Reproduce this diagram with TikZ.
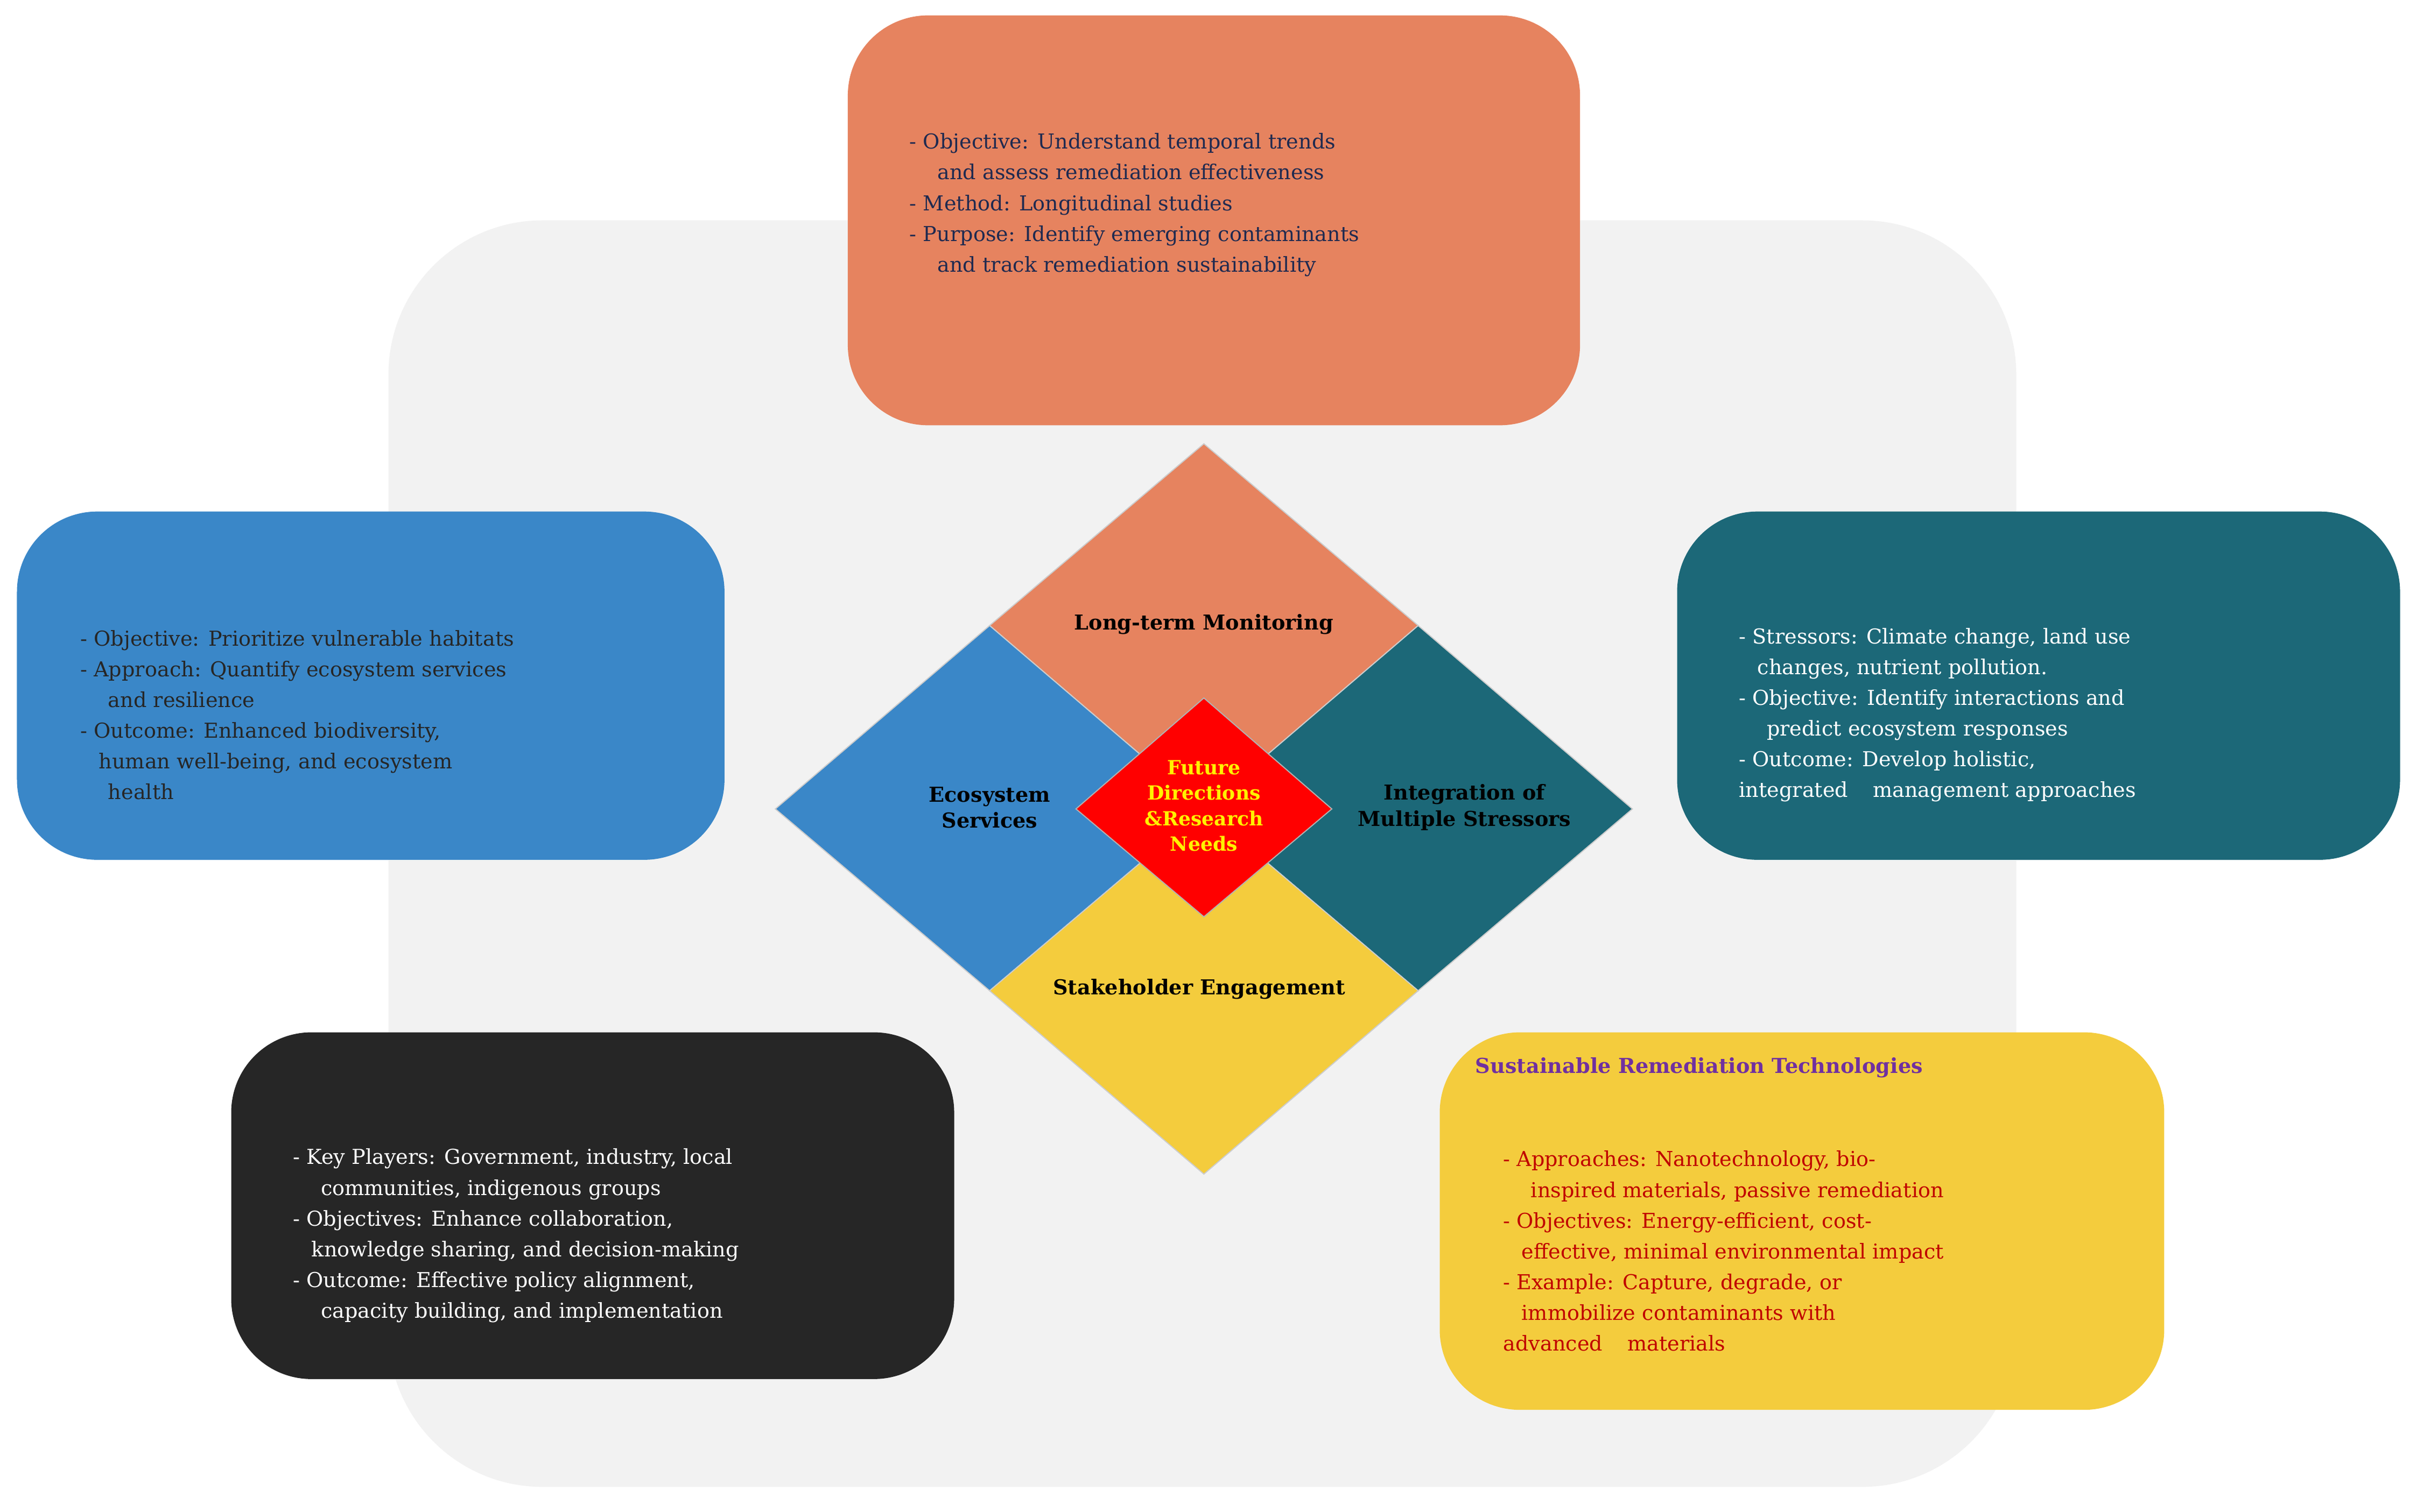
\documentclass[tikz,border=0pt]{standalone}
\usepackage{fontspec}
\setmainfont{DejaVu Serif}
\begin{document}
\begin{tikzpicture}[x=0.05cm,y=-0.05cm,
  box/.style={rounded corners=2.6cm},
  txt/.style={anchor=west,align=left,font=\fontsize{19}{28.4}\selectfont,inner sep=0},
  lab/.style={align=center,font=\bfseries\fontsize{19}{24}\selectfont,inner sep=0},
  dia/.style={draw=gray!40,line width=1pt}]
\definecolor{bgc}{HTML}{F2F2F2}
\definecolor{org}{HTML}{E6835F}
\definecolor{blu}{HTML}{3A87C8}
\definecolor{tea}{HTML}{1C6878}
\definecolor{blk}{HTML}{262626}
\definecolor{yel}{HTML}{F4CC3D}
\definecolor{nav}{HTML}{1F2A50}
\definecolor{pur}{HTML}{7030A0}
\definecolor{drd}{HTML}{C00000}
\useasboundingbox (0,0) rectangle (1568,981);
\fill[bgc,rounded corners=5cm] (252,143) rectangle (1308,965);
\fill[org,box] (550,10) rectangle (1025,276);
\fill[blu,box] (11,332) rectangle (470,558);
\fill[tea,box] (1088,332) rectangle (1557,558);
\fill[blk,box] (150,670) rectangle (619,895);
\fill[yel,box] (934,670) rectangle (1404,915);
% diamonds
\filldraw[org,dia] (781,288) -- (920,406) -- (781,525) -- (642,406) -- cycle;
\filldraw[blu,dia] (642,406) -- (781,525) -- (642,643) -- (503,525) -- cycle;
\filldraw[tea,dia] (920,406) -- (1059,525) -- (920,643) -- (781,525) -- cycle;
\filldraw[yel,dia] (781,525) -- (920,643) -- (781,762) -- (642,643) -- cycle;
\filldraw[fill=red,draw=gray!60,line width=1pt] (781,453) -- (864,525) -- (781,595) -- (698,525) -- cycle;
\node[lab] (lm) at (781,405) {Long-term Monitoring};
\node[lab] (es) at (642,524) {Ecosystem\\Services};
\node[lab] (im) at (950,524) {Integration of\\Multiple Stressors};
\node[lab] (se) at (778,642) {Stakeholder Engagement};
\node[lab,text=yellow,font=\bfseries\fontsize{18}{23.5}\selectfont] (fd) at (781,523) {Future\\Directions\\\&Research\\Needs};
% texts
\node[txt,text=nav] (t1) at (590,133) {- Objective: Understand temporal trends\\\hspace*{0.9cm}and assess remediation effectiveness\\- Method: Longitudinal studies\\- Purpose: Identify emerging contaminants\\\hspace*{0.9cm}and track remediation sustainability};
\node[txt,text=black!85] (t2) at (52,464) {- Objective: Prioritize vulnerable habitats\\- Approach: Quantify ecosystem services\\\hspace*{0.9cm}and resilience\\- Outcome: Enhanced biodiversity,\\\hspace*{0.6cm}human well-being, and ecosystem\\\hspace*{0.9cm}health};
\node[txt,text=white] (t3) at (1128,464) {- Stressors: Climate change, land use\\\hspace*{0.6cm}changes, nutrient pollution.\\- Objective: Identify interactions and\\\hspace*{0.9cm}predict ecosystem responses\\- Outcome: Develop holistic,\\integrated\hspace{0.8cm}management approaches};
\node[txt,text=white] (t4) at (190,802) {- Key Players: Government, industry, local\\\hspace*{0.9cm}communities, indigenous groups\\- Objectives: Enhance collaboration,\\\hspace*{0.6cm}knowledge sharing, and decision-making\\- Outcome: Effective policy alignment,\\\hspace*{0.9cm}capacity building, and implementation};
\node[txt,text=pur,font=\bfseries\fontsize{19}{24}\selectfont] (t5h) at (957,693) {Sustainable Remediation Technologies};
\node[txt,text=drd] (t5) at (975,812) {- Approaches: Nanotechnology, bio-\\\hspace*{0.9cm}inspired materials, passive remediation\\- Objectives: Energy-efficient, cost-\\\hspace*{0.6cm}effective, minimal environmental impact\\- Example: Capture, degrade, or\\\hspace*{0.6cm}immobilize contaminants with\\advanced\hspace{0.8cm}materials};
\end{tikzpicture}
\end{document}
